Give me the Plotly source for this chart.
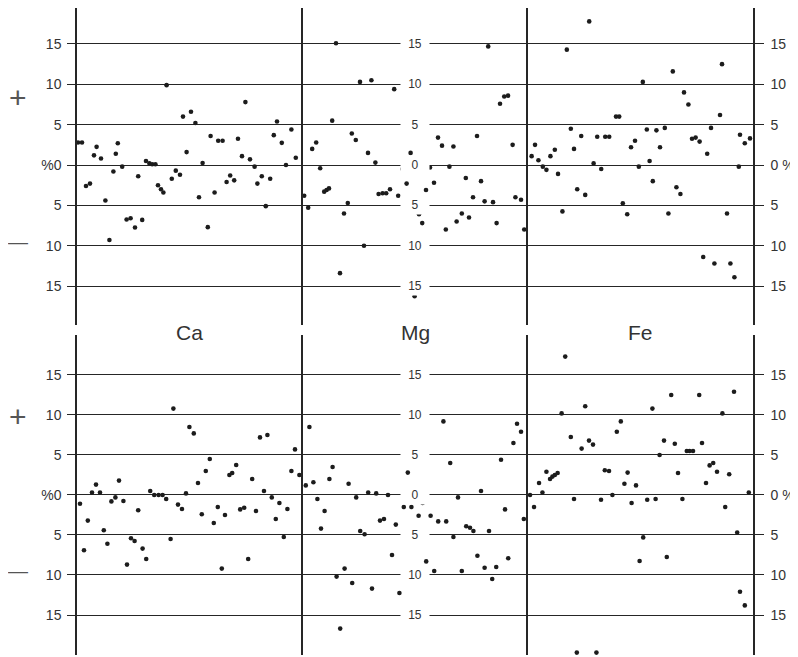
import plotly.graph_objects as go
from plotly.subplots import make_subplots

# ---------------- data (position along strip in sample units, % deviation) ----------------
elements = ["Ca", "Mg", "Fe"]
tick_vals = [-15, -10, -5, 0, 5, 10, 15]
left_tick_text = ["15", "10", "5", "%0", "5", "10", "15"]
right_tick_text = ["15", "10", "5", "0 %", "5", "10", "15"]
mid_tick_text = ["15", "10", "5", "0", "5", "10", "15"]

ca_upper_pos = [0.25, 1.25, 2.25, 3.25, 4.25, 4.9, 6.0, 7.1, 8.1, 9.1, 9.7, 10.2, 11.3, 12.4, 13.4, 14.5, 15.3,
                16.3, 17.25, 18.1, 18.8, 19.6, 20.25, 21.0, 21.6, 22.4, 23.7, 24.7, 25.75, 26.5, 27.4, 28.5, 29.6,
                30.5, 31.4, 32.7, 33.4, 34.4, 35.3, 36.4, 37.4, 38.3, 39.3, 40.25, 41.25, 42.1, 43.25, 44.4, 45.1,
                46.2, 47.2, 48.3, 49.2, 50.0, 51.2, 52.25, 53.6, 54.7]
ca_upper_dev = [2.8, 2.8, -2.6, -2.3, 1.2, 2.25, 0.8, -4.4, -9.3, -0.8, 1.4, 2.7, -0.2, -6.75, -6.6, -7.75, -1.4,
                -6.8, 0.5, 0.2, 0.1, 0.1, -2.5, -3.0, -3.4, 9.9, -1.7, -0.7, -1.2, 6.0, 1.6, 6.6, 5.2, -4.0, 0.25,
                -7.7, 3.6, -3.4, 3.0, 3.0, -2.1, -1.3, -1.9, 3.25, 1.1, 7.8, 0.7, -0.2, -2.3, -1.4, -5.1, -1.7, 3.7,
                5.4, 2.75, 0.0, 4.4, 0.9]

mg_upper_pos = [0.3, 1.3, 2.3, 3.3, 4.3, 5.3, 5.9, 6.5, 7.3, 8.25, 9.25, 10.25, 11.2, 12.2, 13.2, 14.25, 15.25,
                16.25, 17.1, 18.1, 18.9, 19.9, 20.8, 21.75, 22.8, 23.8, 24.9, 25.9, 26.9, 27.9, 29.0, 29.8, 30.75,
                31.75, 32.75, 33.75, 34.75, 35.7, 36.6, 37.6, 38.4, 39.7, 40.7, 41.5, 42.5, 43.5, 44.5, 45.4, 46.3,
                47.5, 48.4, 49.25, 50.3, 51.25, 52.4, 53.1, 54.5, 55.3]
mg_upper_dev = [-3.8, -5.3, 2.0, 2.8, -0.4, -3.3, -3.1, -2.9, 5.5, 15.1, -13.4, -6.0, -4.7, 3.9, 3.1, 10.3, -10.0,
                1.5, 10.5, 0.3, -3.6, -3.5, -3.5, -3.0, 9.4, -3.8, -0.5, -2.3, 1.5, -16.25, -6.1, -7.2, -3.1, -0.3,
                -2.2, 3.4, 2.4, -8.0, -0.2, 2.3, -7.0, -6.0, -1.6, -6.5, -4.0, 3.6, -2.0, -4.5, 14.7, -4.6, -7.2,
                7.6, 8.5, 8.6, 2.5, -4.0, -4.3, -8.0]

fe_upper_pos = [0.9, 1.75, 2.6, 3.7, 4.6, 5.6, 6.7, 7.5, 8.6, 9.7, 10.7, 11.5, 12.3, 13.3, 14.3, 15.3, 16.4, 17.3,
                18.3, 19.3, 20.3, 22.0, 22.8, 23.7, 24.8, 25.75, 26.75, 27.7, 28.7, 29.7, 30.4, 31.2, 32.1, 33.0,
                34.2, 35.1, 36.2, 37.1, 38.1, 39.0, 40.1, 41.0, 41.9, 42.9, 43.8, 44.8, 45.75, 46.6, 48.0, 48.5,
                49.75, 50.6, 51.6, 52.7, 53.0, 54.2, 55.5]
fe_upper_dev = [1.1, 2.5, 0.6, -0.2, -0.6, 1.1, 1.9, -1.1, -5.75, 14.3, 4.5, 2.0, -3.0, 3.6, -3.7, 17.8, 0.2, 3.5,
                -0.5, 3.5, 3.5, 6.0, 6.0, -4.75, -6.1, 2.2, 3.0, -0.2, 10.3, 4.4, 0.5, -2.0, 4.3, 2.2, 4.6, -6.0,
                11.6, -2.75, -3.6, 9.0, 7.5, 3.25, 3.4, 2.9, -11.4, 1.4, 4.6, -12.2, 6.2, 12.5, -6.0, -12.2, -13.9,
                -0.2, 3.75, 2.7, 3.3]

ca_lower_pos = [0.75, 1.75, 2.7, 3.75, 4.75, 5.75, 6.7, 7.6, 8.6, 9.6, 10.5, 11.6, 12.5, 13.5, 14.4, 15.3, 16.4,
                17.3, 18.3, 19.3, 20.4, 21.4, 22.3, 23.4, 24.1, 25.25, 26.25, 27.25, 28.1, 29.2, 30.25, 31.2, 32.2,
                33.2, 34.2, 35.2, 36.2, 37.0, 38.1, 38.8, 39.8, 40.8, 41.8, 42.8, 43.8, 44.75, 45.75, 46.75, 47.6,
                48.7, 49.7, 50.6, 51.7, 52.6, 53.6, 54.5, 55.6]
ca_lower_dev = [-1.1, -6.9, -3.2, 0.3, 1.3, 0.3, -4.4, -6.1, -0.8, -0.3, 1.8, -0.75, -8.7, -5.4, -5.75, -1.9, -6.7,
                -8.0, 0.5, 0.0, 0.0, 0.0, -0.5, -5.5, 10.8, -1.2, -1.75, 0.2, 8.5, 7.7, 1.5, -2.4, 3.0, 4.5, -3.5,
                -1.5, -9.2, -2.5, 2.5, 2.75, 3.75, -1.8, -1.6, -8.0, 2.0, -2.0, 7.2, 0.5, 7.5, -0.3, -3.0, -1.0,
                -5.25, -1.75, 3.0, 5.7, 2.5]

mg_lower_pos = [0.7, 1.6, 2.6, 3.6, 4.5, 5.4, 6.6, 7.4, 8.4, 9.3, 10.4, 11.4, 12.3, 13.3, 14.3, 15.4, 16.3, 17.25,
                18.3, 19.25, 20.25, 21.25, 22.25, 23.2, 24.1, 25.2, 26.2, 27.1, 28.1, 28.9, 29.9, 30.8, 31.9, 32.8,
                33.8, 35.1, 35.8, 36.8, 37.6, 38.75, 39.7, 40.8, 41.75, 42.6, 43.6, 44.5, 45.4, 46.5, 47.3, 48.3,
                49.5, 50.5, 51.3, 52.6, 53.5, 54.5, 55.2]
mg_lower_dev = [1.2, 8.5, 1.6, -0.5, -4.2, -2.0, 2.0, 3.5, -10.2, -16.7, -9.2, 1.4, -11.0, -0.3, -4.5, -4.9, 0.3,
                -11.7, 0.2, -3.2, -3.0, 0.0, -7.5, -3.7, -12.25, -1.5, 2.8, -1.5, -0.3, -2.6, -1.0, -8.3, -2.6,
                -9.5, -3.3, 9.2, -3.3, 4.0, -5.25, -0.3, -9.5, -3.9, -4.1, -4.5, -7.6, 0.5, -9.1, -4.5, -10.5,
                -9.0, 4.4, -1.8, -7.9, 6.5, 8.9, 7.9, -3.0]

fe_lower_pos = [0.5, 1.5, 2.75, 3.6, 4.6, 5.5, 6.1, 6.7, 7.4, 8.4, 9.3, 10.7, 11.5, 12.2, 13.4, 14.3, 15.25, 16.25,
                17.1, 18.25, 19.2, 20.25, 21.1, 22.2, 23.2, 24.1, 24.9, 25.9, 27.0, 27.9, 28.8, 29.8, 31.1, 31.9,
                32.9, 34.0, 34.7, 35.8, 36.7, 37.5, 38.6, 39.7, 40.4, 41.25, 42.8, 43.5, 44.5, 45.4, 46.3, 47.25,
                48.6, 49.3, 50.3, 51.5, 52.3, 53.0, 54.2, 55.2]
fe_lower_dev = [0.0, -1.5, 1.5, 0.3, 2.9, 2.0, 2.3, 2.5, 2.75, 10.2, 17.3, 7.25, -0.5, -19.7, 5.8, 11.1, 6.8, 6.3,
                -19.7, -0.6, 3.1, 3.0, 0.0, 7.9, 9.2, 1.4, 2.8, -1.0, 1.2, -8.25, -5.3, -0.6, 10.8, -0.5, 5.0, 6.8,
                -7.75, 12.5, 6.4, 2.75, -0.5, 5.5, 5.5, 5.5, 12.5, 6.5, 1.5, 3.7, 4.0, 2.9, 10.2, -1.5, 2.6, 12.9,
                -4.7, -12.1, -13.8, 0.3]

# ---------------- styling ----------------
LINE = "#262626"
TEXT = "#333333"
DOT = "#1c1c1c"
FONT = "Liberation Sans"

col_domains = [[0.0, 0.3343], [0.3343, 0.6672], [0.6672, 1.0]]
row_domains = [[0.5100, 1.0], [0.0, 0.4946]]
x_ranges = [[0, 56.5], [0, 56.25], [0, 56.25]]
y_ranges = [[-19.83, 19.46], [-20.0, 20.0]]

panels = [
    [(ca_upper_pos, ca_upper_dev), (mg_upper_pos, mg_upper_dev), (fe_upper_pos, fe_upper_dev)],
    [(ca_lower_pos, ca_lower_dev), (mg_lower_pos, mg_lower_dev), (fe_lower_pos, fe_lower_dev)],
]

fig = make_subplots(rows=2, cols=3, horizontal_spacing=0, vertical_spacing=0.0154)

for r in range(2):
    for c in range(3):
        xs, ys = panels[r][c]
        fig.add_trace(go.Scatter(x=xs, y=ys, mode="markers",
                                 marker=dict(size=4.6, color=DOT),
                                 cliponaxis=False, hoverinfo="skip", showlegend=False),
                      row=r + 1, col=c + 1)
        idx = r * 3 + c + 1
        xa = "xaxis" if idx == 1 else f"xaxis{idx}"
        ya = "yaxis" if idx == 1 else f"yaxis{idx}"
        fig.layout[xa].update(domain=col_domains[c], range=x_ranges[c], visible=False, fixedrange=True)
        ycfg = dict(domain=row_domains[r], range=y_ranges[r], tickvals=tick_vals,
                    showgrid=True, gridcolor=LINE, gridwidth=1.3, zeroline=False,
                    showline=True, linecolor=LINE, linewidth=1.5, fixedrange=True, automargin=False,
                    tickfont=dict(family=FONT, size=14, color=TEXT))
        if c == 0:
            ycfg.update(side="left", ticks="outside", ticklen=8, tickwidth=1.3, tickcolor=LINE,
                        ticktext=left_tick_text, showticklabels=True, ticklabelstandoff=3)
        elif c == 1:
            ycfg.update(ticks="", showticklabels=False)
        else:
            ycfg.update(side="right", mirror=True, ticks="outside", ticklen=9, tickwidth=1.3,
                        tickcolor=LINE, ticktext=right_tick_text, showticklabels=True,
                        ticklabelstandoff=4)
        fig.layout[ya].update(**ycfg)

annotations = []
# centre labels in the middle strips (white boxes break the grid lines)
for r, (xr, yr) in enumerate([("x2", "y2"), ("x5", "y5")]):
    for v, t in zip(tick_vals, mid_tick_text):
        annotations.append(dict(x=28.1, y=v, xref=xr, yref=yr, text=t, showarrow=False,
                                bgcolor="white", width=24, borderpad=2,
                                font=dict(family=FONT, size=12, color=TEXT)))

# element names between the two rows
for c, name in enumerate(elements):
    xc = (col_domains[c][0] + col_domains[c][1]) / 2
    annotations.append(dict(x=xc, y=0.4977, xref="paper", yref="paper", text=name, showarrow=False,
                            xanchor="center", yanchor="middle",
                            font=dict(family=FONT, size=21, color=TEXT)))

# + / - signs at the left
for yr, plus_y, minus_y in [("y", 8.4, -9.5), ("y4", 9.75, -9.5)]:
    annotations.append(dict(x=-0.087, y=plus_y, xref="paper", yref=yr, text="+", showarrow=False,
                            xanchor="center", yanchor="middle",
                            font=dict(family=FONT, size=30, color="#555555")))
    annotations.append(dict(x=-0.087, y=minus_y, xref="paper", yref=yr, text="\u2014", showarrow=False,
                            xanchor="center", yanchor="middle",
                            font=dict(family=FONT, size=20, color="#555555")))

# the page adds an 8px body margin, so the figure is 8px smaller than the window
fig.update_layout(width=790, height=649, margin=dict(l=69, r=45, t=0, b=2, pad=0),
                  paper_bgcolor="white", plot_bgcolor="white", showlegend=False,
                  annotations=annotations)

fig.write_html("out.html")
